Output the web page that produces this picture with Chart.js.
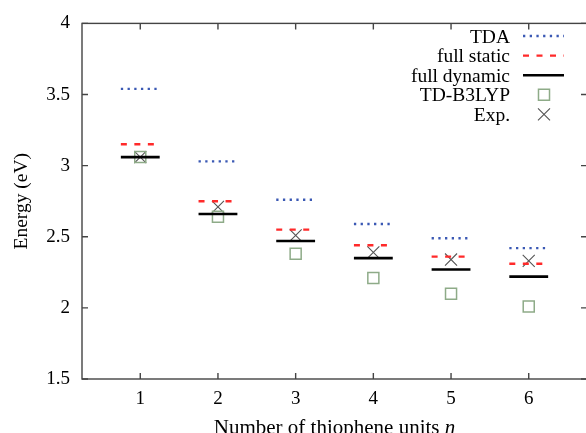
<!DOCTYPE html>
<html>
<head>
<meta charset="utf-8">
<script src="https://cdn.jsdelivr.net/npm/chart.js@4/dist/chart.umd.min.js"></script>
<style>
  html, body { margin: 0; padding: 0; background: #fff; overflow: hidden; }
  #wrap { width: 586px; height: 433px; overflow: hidden; }
</style>
</head>
<body>
<div id="wrap"><canvas id="chart" width="592" height="433"></canvas></div>
<script>
// thiophene oligomer lengths
const nUnits = [1, 2, 3, 4, 5, 6];
// excitation energies (eV)
const tda = [3.54, 3.03, 2.76, 2.59, 2.49, 2.42];
const fullStatic = [3.15, 2.75, 2.55, 2.44, 2.36, 2.31];
const fullDynamic = [3.06, 2.66, 2.47, 2.35, 2.27, 2.22];
const b3lyp = [3.06, 2.64, 2.38, 2.21, 2.10, 2.01];
const expt = [3.06, 2.71, 2.51, 2.39, 2.34, 2.33];
const yTicks = [1.5, 2, 2.5, 3, 3.5, 4];

const FONT = '"Liberation Serif", "DejaVu Serif", serif';

// short horizontal level for each n
const levels = (vals) => vals.flatMap((v, i) => [
    { x: nUnits[i] - 0.25, y: v },
    { x: nUnits[i] + 0.25, y: v },
    { x: nUnits[i], y: null }
]);
const points = (vals) => vals.map((v, i) => ({ x: nUnits[i], y: v }));

const datasets = [
    { label: 'TDA', data: levels(tda), borderColor: '#3b59b4', borderWidth: 2.4,
      borderDash: [2.3, 4.4], pointRadius: 0, showLine: true, spanGaps: false },
    { label: 'full static', data: levels(fullStatic), borderColor: '#ff2a2a', borderWidth: 2.4,
      borderDash: [6, 7.5], pointRadius: 0, showLine: true, spanGaps: false },
    { label: 'full dynamic', data: levels(fullDynamic), borderColor: '#000', borderWidth: 2.6,
      pointRadius: 0, showLine: true, spanGaps: false },
    { label: 'TD-B3LYP', data: points(b3lyp), borderColor: '#8eab88', borderWidth: 1.5,
      pointStyle: 'rect', pointRadius: 7.8, backgroundColor: 'transparent', showLine: false },
    { label: 'Exp.', data: points(expt), borderColor: '#555', borderWidth: 1.1,
      pointStyle: 'crossRot', pointRadius: 8.5, showLine: false }
];

// frame, inward ticks, axis titles, legend
const framePlugin = {
    id: 'frame',
    afterDraw(chart) {
        const ctx = chart.ctx;
        const a = chart.chartArea;
        const xs = chart.scales.x, ys = chart.scales.y;
        ctx.save();
        ctx.strokeStyle = '#444';
        ctx.lineWidth = 1.4;
        ctx.strokeRect(a.left, a.top, a.right - a.left, a.bottom - a.top);
        ctx.beginPath();
        yTicks.forEach(v => {
            const y = ys.getPixelForValue(v);
            ctx.moveTo(a.left, y); ctx.lineTo(a.left + 6, y);
            ctx.moveTo(a.right, y); ctx.lineTo(a.right - 6, y);
        });
        nUnits.forEach(v => {
            const x = xs.getPixelForValue(v);
            ctx.moveTo(x, a.bottom); ctx.lineTo(x, a.bottom - 6);
            ctx.moveTo(x, a.top); ctx.lineTo(x, a.top + 6);
        });
        ctx.stroke();

        // axis titles
        ctx.fillStyle = '#000';
        ctx.textBaseline = 'alphabetic';
        const t1 = 'Number of thiophene units ';
        ctx.font = '21px ' + FONT;
        const w1 = ctx.measureText(t1).width;
        ctx.font = 'italic 21px ' + FONT;
        const w2 = ctx.measureText('n').width;
        const cx = (a.left + a.right) / 2;
        const x0 = cx - (w1 + w2) / 2;
        ctx.textAlign = 'left';
        ctx.font = '21px ' + FONT;
        ctx.fillText(t1, x0, 434);
        ctx.font = 'italic 21px ' + FONT;
        ctx.fillText('n', x0 + w1, 434);

        ctx.save();
        ctx.translate(27, (a.top + a.bottom) / 2);
        ctx.rotate(-Math.PI / 2);
        ctx.textAlign = 'center';
        ctx.font = '19.5px ' + FONT;
        ctx.fillText('Energy (eV)', 0, 0);
        ctx.restore();

        // legend
        ctx.textAlign = 'right';
        ctx.font = '19.5px ' + FONT;
        chart.data.datasets.forEach((ds, i) => {
            const y = 36 + i * 19.6;
            ctx.fillStyle = '#000';
            ctx.fillText(ds.label, 510, y + 6.5);
            ctx.strokeStyle = ds.borderColor;
            ctx.lineWidth = ds.borderWidth;
            if (ds.showLine) {
                ctx.setLineDash(ds.borderDash || []);
                ctx.beginPath();
                ctx.moveTo(523, y); ctx.lineTo(564, y);
                ctx.stroke();
                ctx.setLineDash([]);
            } else {
                ctx.fillStyle = 'rgba(0,0,0,0)';
                Chart.helpers.drawPoint(ctx, {
                    pointStyle: ds.pointStyle, radius: ds.pointRadius,
                    borderWidth: ds.borderWidth, rotation: 0
                }, 544, y);
            }
        });
        ctx.restore();
    }
};

new Chart(document.getElementById('chart'), {
    type: 'scatter',
    data: { datasets: datasets },
    options: {
        responsive: false,
        animation: false,
        layout: { autoPadding: false, padding: { top: 21, right: 5, left: 0, bottom: 0 } },
        plugins: { legend: { display: false }, tooltip: { enabled: false } },
        scales: {
            x: {
                type: 'linear', min: 0.25, max: 6.75,
                grid: { display: false, drawTicks: false },
                border: { display: false },
                afterBuildTicks: s => { s.ticks = nUnits.map(v => ({ value: v })); },
                afterFit: s => { s.height = 54; },
                ticks: { padding: 9, color: '#000', font: { family: FONT, size: 19 },
                         callback: v => String(v) }
            },
            y: {
                type: 'linear', min: 1.5, max: 4,
                grid: { display: false, drawTicks: false },
                border: { display: false },
                afterBuildTicks: s => { s.ticks = yTicks.map(v => ({ value: v })); },
                afterFit: s => { s.width = 82; },
                ticks: { padding: 12, color: '#000', font: { family: FONT, size: 19 },
                         callback: v => String(v) }
            }
        }
    },
    plugins: [framePlugin]
});
</script>
</body>
</html>
